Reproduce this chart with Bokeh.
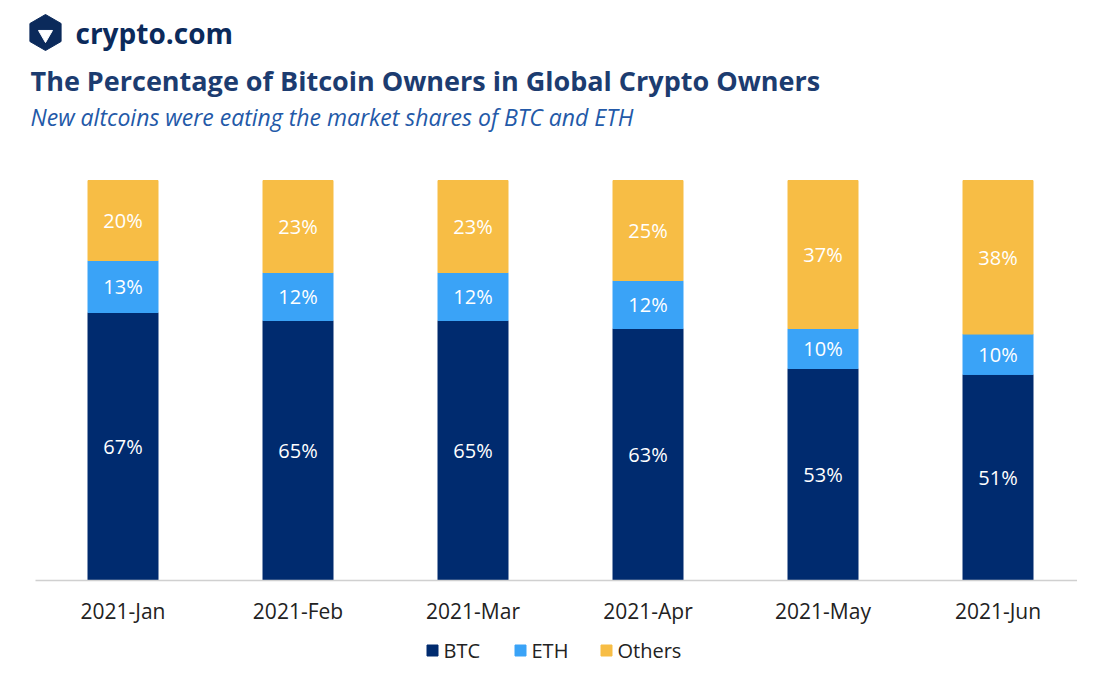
from bokeh.plotting import figure
from bokeh.models import Range1d
from bokeh.core.properties import value
from bokeh.embed import file_html
from bokeh.resources import INLINE

months = ["2021-Jan", "2021-Feb", "2021-Mar", "2021-Apr", "2021-May", "2021-Jun"]
btc = [67, 65, 65, 63, 53, 51]
eth = [13, 12, 12, 12, 10, 10]
others = [20, 23, 23, 25, 37, 38]
series = ["BTC", "ETH", "Others"]
colors = ["#002b6f", "#3aa3f7", "#f7bd45"]

W, H = 1077, 664
PX = 175.0
PY = 400.0
x0 = -35 / PX
y_top = 1 + 180 / PY
y_bot = -(H - 580) / PY

p = figure(width=W, height=H, output_backend="svg", toolbar_location=None,
           x_range=Range1d(x0, x0 + W / PX), y_range=Range1d(y_bot, y_top),
           min_border=0, outline_line_color=None)
p.axis.visible = False
p.grid.visible = False
p.background_fill_color = "white"
font = value("Open Sans")

n = len(months)
xs = [i + 0.5 for i in range(n)]
sums = [btc[i] + eth[i] + others[i] for i in range(n)]
b = [btc[i] / sums[i] for i in range(n)]
e = [eth[i] / sums[i] for i in range(n)]
be = [b[i] + e[i] for i in range(n)]
tot = [1.0] * n

p.vbar(x=xs, bottom=0, top=b, width=0.4, color=colors[0])
p.vbar(x=xs, bottom=b, top=be, width=0.4, color=colors[1])
p.vbar(x=xs, bottom=be, top=tot, width=0.4, color=colors[2])

def lab(ys, vals):
    p.text(x=xs, y=ys, text=[f"{v}%" for v in vals], text_color="white",
           text_font=font, text_font_size="20px", text_align="center",
           text_baseline="middle")

lab([v / 2 for v in b], btc)
lab([(b[i] + be[i]) / 2 for i in range(n)], eth)
lab([(be[i] + tot[i]) / 2 for i in range(n)], others)

p.segment(x0=[0], y0=[0], x1=[6], y1=[0], line_color="#d0d0d0", line_width=1.5)
p.text(x=xs, y=[-30 / PY] * n, text=months, text_color="#222222", text_font=font,
       text_font_size="21px", text_align="center", text_baseline="middle")

def ty(py):
    return 1 + (180 - py) / PY
def tx(px):
    return (px - 35) / PX

ly = ty(650)
lx = [tx(432), tx(520), tx(606)]
p.scatter(x=lx, y=[ly] * 3, marker="square", size=11, color=colors)
p.text(x=[v + 11 / PX for v in lx], y=[ly] * 3, text=series, text_color="#222222",
       text_font=font, text_font_size="20px", text_baseline="middle")

p.scatter(x=[tx(45)], y=[ty(32)], marker="hex", size=36, color="#0b2a5b", angle=0.5236)
p.scatter(x=[tx(45)], y=[ty(34)], marker="triangle", size=14, color="white", angle=3.1416)
p.text(x=[tx(75)], y=[ty(32)], text=["crypto.com"], text_color="#0b2a5b", text_font=font,
       text_font_size="28px", text_font_style="bold", text_baseline="middle")
p.text(x=[tx(30)], y=[ty(80)], text=["The Percentage of Bitcoin Owners in Global Crypto Owners"],
       text_color="#1c3c70", text_font=font, text_font_size="27px", text_font_style="bold",
       text_baseline="middle")
p.text(x=[tx(30)], y=[ty(116)], text=["New altcoins were eating the market shares of BTC and ETH"],
       text_color="#2359a8", text_font=font, text_font_size="23px", text_font_style="italic",
       text_baseline="middle")

open("out.html", "w").write(file_html(p, INLINE))
